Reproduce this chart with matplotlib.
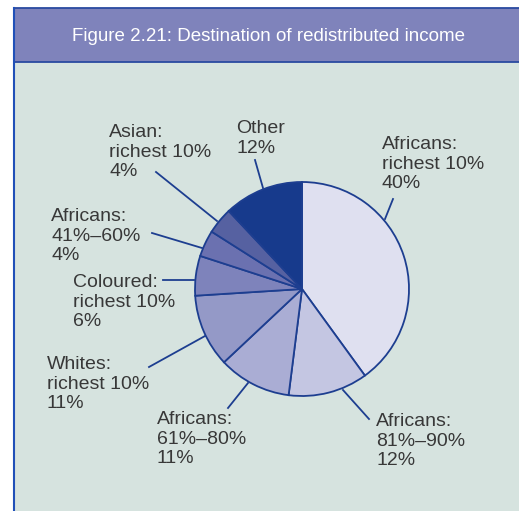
import numpy as np
import matplotlib.pyplot as plt
from matplotlib.patches import Rectangle

# Data
labels = ['Africans:\nrichest 10%', 'Africans:\n81%\u201390%', 'Africans:\n61%\u201380%',
          'Whites:\nrichest 10%', 'Coloured:\nrichest 10%', 'Africans:\n41%\u201360%',
          'Asian:\nrichest 10%', 'Other']
shares = [40, 12, 11, 11, 6, 4, 4, 12]
colors = ['#dfe0f0', '#c4c6e2', '#aaadd4', '#9499c7', '#7e83bb', '#6b71b0', '#5661a1', '#173a8c']

# layout (pixel coords of the 519x511 picture, y downwards)
W, H = 519, 511
center = (302, 289)
radius = 107
# label top-left and leader (start, end)
label_pos = [(382, 136), (376, 413), (157, 411), (47, 356), (73, 274), (51, 208), (109, 124), (236, 120)]
leaders = [((385, 219), (393, 199)), ((343, 390), (369, 419)), ((248, 383), (228, 408)),
           ((205, 336), (149, 367)), ((194, 280), (163, 280)), ((202, 248), (152, 233)),
           ((217, 221), (156, 172)), ((263, 188), (255, 160))]

edge = '#1d3e90'
font = ['Liberation Sans', 'DejaVu Sans']

fig = plt.figure(figsize=(W / 100, H / 100), dpi=100)
ax = fig.add_axes([0, 0, 1, 1])

def fy(y):
    return H - y

# panel + header
ax.add_patch(Rectangle((14, 0), W, fy(8), facecolor='#d6e3df', edgecolor='none', zorder=0))
ax.add_patch(Rectangle((14, fy(62)), W, 54, facecolor='#7f83bb', edgecolor='none', zorder=1))
ax.plot([14, W], [fy(8), fy(8)], color='#2a4aa0', lw=1.3, zorder=2)
ax.plot([14, W], [fy(62), fy(62)], color='#2a4aa0', lw=1.3, zorder=2)
ax.plot([14, 14], [0, fy(8)], color='#2050b8', lw=1.5, zorder=2)
ax.text(268, fy(36), 'Figure 2.21: Destination of redistributed income', color='white',
        fontsize=13.5, family=font, ha='center', va='center', zorder=3)

ax.pie(shares, colors=colors, startangle=90, counterclock=False,
       center=(center[0], fy(center[1])), radius=radius, frame=True,
       wedgeprops=dict(edgecolor=edge, linewidth=1.3))
ax.set_xlim(0, W)
ax.set_ylim(0, H)
ax.axis('off')

for lab, s, (x, y), (p0, p1) in zip(labels, shares, label_pos, leaders):
    ax.plot([p0[0], p1[0]], [fy(p0[1]), fy(p1[1])], color=edge, lw=1.3, zorder=4)
    ax.text(x, fy(y), '%s\n%d%%' % (lab, s), color='#383838', fontsize=14, family=font,
            ha='left', va='top', linespacing=1.2, zorder=4)

fig.savefig('out.png', dpi=100, facecolor='white')
